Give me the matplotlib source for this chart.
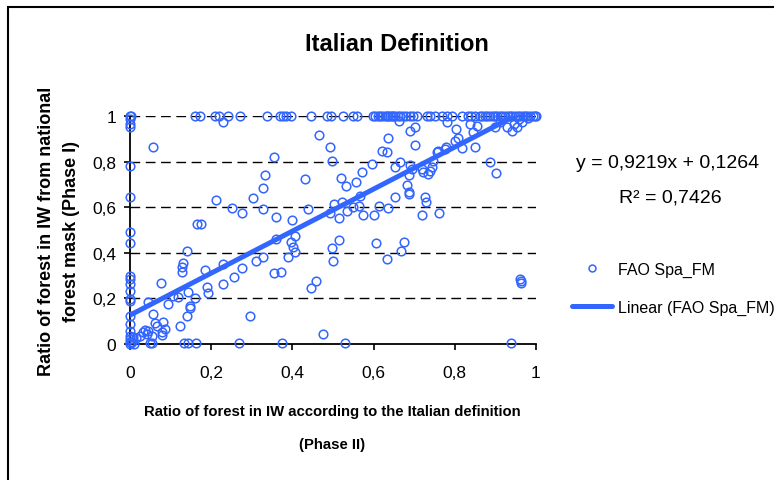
import matplotlib
matplotlib.use("Agg")
import matplotlib.pyplot as plt
from matplotlib.patches import Rectangle
import numpy as np

# points sitting on the y axis (x = 0)
left_x = [0.0, 0.003, 0.0, 0.0, 0.0, 0.0, 0.0, 0.0, 0.0, 0.0, 0.0, 0.0, 0.0,
          0.0, 0.0, 0.0, 0.0, 0.0, 0.0, 0.0, 0.0, 0.0, 0.005, 0.008, 0.01]
left_y = [1.0, 1.0, 0.987, 0.965, 0.953, 0.779, 0.646, 0.49, 0.442, 0.3, 0.285,
          0.263, 0.234, 0.197, 0.187, 0.124, 0.088, 0.058, 0.037, 0.022, 0.007,
          0.0, 0.01, 0.03, 0.0]

# points on the top row (y = 1)
top_x = [0.16, 0.172, 0.209, 0.22, 0.228, 0.242, 0.271, 0.337, 0.369, 0.377, 0.385,
         0.396, 0.447, 0.484, 0.496, 0.525, 0.55, 0.558, 0.599, 0.604, 0.612, 0.616,
         0.62, 0.628, 0.632, 0.636, 0.64, 0.645, 0.649, 0.653, 0.66, 0.665, 0.673,
         0.681, 0.69, 0.698, 0.706, 0.731, 0.739, 0.751, 0.768, 0.78, 0.792, 0.817,
         0.833, 0.841, 0.85, 0.862, 0.868, 0.874, 0.88, 0.887, 0.893, 0.899, 0.905,
         0.911, 0.917, 0.924, 0.93, 0.936, 0.942, 0.948, 0.955, 0.961, 0.967, 0.973,
         0.979, 0.985, 0.993, 0.997, 1.0]
top_y = [1.0, 1.0, 1.0, 1.0, 0.972, 1.0, 1.0, 1.0, 1.0, 1.0, 1.0,
         1.0, 1.0, 1.0, 1.0, 1.0, 1.0, 1.0, 1.0, 1.0, 1.0, 1.0,
         1.0, 1.0, 1.0, 1.0, 1.0, 1.0, 1.0, 1.0, 1.0, 1.0, 1.0,
         1.0, 1.0, 1.0, 1.0, 1.0, 1.0, 1.0, 1.0, 1.0, 1.0, 1.0,
         1.0, 1.0, 1.0, 1.0, 1.0, 1.0, 1.0, 1.0, 1.0, 1.0, 1.0,
         1.0, 1.0, 1.0, 1.0, 1.0, 1.0, 1.0, 1.0, 1.0, 1.0, 1.0,
         1.0, 1.0, 1.0, 1.0, 1.0]

# the rest of the cloud
mid_x = [0.466, 0.056, 0.493, 0.355, 0.333, 0.431, 0.327, 0.304, 0.212, 0.25, 0.328,
         0.439, 0.277, 0.359, 0.398, 0.166, 0.174, 0.406, 0.36, 0.397, 0.401, 0.406,
         0.39, 0.14, 0.13, 0.128, 0.129, 0.23, 0.327, 0.31, 0.355, 0.373, 0.185,
         0.277, 0.255, 0.23, 0.076, 0.189, 0.193, 0.144, 0.458, 0.447, 0.16, 0.148,
         0.147, 0.141, 0.045, 0.094, 0.105, 0.118, 0.056, 0.061, 0.066, 0.082, 0.086,
         0.078, 0.08, 0.122, 0.296, 0.476, 0.015, 0.025, 0.033, 0.037, 0.045, 0.041,
         0.049, 0.053, 0.133, 0.144, 0.163, 0.269, 0.375, 0.053, 0.53, 0.938,
         0.663, 0.78, 0.69, 0.702, 0.636, 0.702, 0.62, 0.632, 0.497, 0.595, 0.665,
         0.653, 0.69, 0.694, 0.686, 0.683, 0.688, 0.686, 0.571, 0.519, 0.532, 0.557,
         0.567, 0.718, 0.722, 0.739, 0.743, 0.747, 0.735, 0.757, 0.776, 0.804, 0.809,
         0.8, 0.817, 0.85, 0.837, 0.846, 0.854, 0.887, 0.901, 0.928, 0.94, 0.952,
         0.965, 0.899, 0.759, 0.779, 0.912, 0.945, 0.958, 0.98,
         0.493, 0.502, 0.516, 0.521, 0.534, 0.55, 0.565, 0.575, 0.602, 0.614, 0.636,
         0.653, 0.718, 0.727, 0.73, 0.762,
         0.497, 0.516, 0.499, 0.606, 0.632, 0.667, 0.675, 0.961, 0.962, 0.962]
mid_y = [0.918, 0.865, 0.866, 0.818, 0.741, 0.724, 0.684, 0.639, 0.632, 0.598, 0.59,
         0.592, 0.575, 0.559, 0.545, 0.525, 0.528, 0.475, 0.461, 0.446, 0.424, 0.405,
         0.38, 0.41, 0.356, 0.336, 0.314, 0.35, 0.38, 0.364, 0.311, 0.317, 0.325,
         0.334, 0.293, 0.263, 0.268, 0.249, 0.224, 0.229, 0.278, 0.247, 0.201, 0.167,
         0.158, 0.122, 0.186, 0.175, 0.212, 0.207, 0.13, 0.092, 0.08, 0.098, 0.066,
         0.051, 0.039, 0.08, 0.121, 0.044, 0.025, 0.037, 0.051, 0.063, 0.058, 0.044,
         0.003, 0.003, 0.003, 0.003, 0.003, 0.005, 0.004, 0.037, 0.004, 0.004,
         0.98, 0.975, 0.936, 0.95, 0.904, 0.873, 0.848, 0.844, 0.801, 0.789, 0.797,
         0.778, 0.786, 0.768, 0.741, 0.697, 0.665, 0.658, 0.756, 0.727, 0.692, 0.709,
         0.651, 0.768, 0.753, 0.76, 0.775, 0.804, 0.746, 0.844, 0.855, 0.943, 0.904,
         0.892, 0.858, 0.862, 0.965, 0.928, 0.957, 0.797, 0.75, 0.95, 0.936, 0.95,
         0.972, 0.95, 0.848, 0.862, 0.975, 0.965, 0.985, 0.99,
         0.573, 0.614, 0.551, 0.621, 0.585, 0.599, 0.607, 0.566, 0.566, 0.607, 0.595,
         0.643, 0.566, 0.643, 0.621, 0.575,
         0.42, 0.458, 0.363, 0.443, 0.373, 0.409, 0.449, 0.285, 0.268, 0.277]

slope = 0.9219
intercept = 0.1264
r2 = 0.7426

ticks = [0, 0.2, 0.4, 0.6, 0.8, 1]
tick_labels = ["0", "0,2", "0,4", "0,6", "0,8", "1"]

blue = "#3366ff"
W, H = 774, 481
sans = ["Liberation Sans", "DejaVu Sans"]

fig = plt.figure(figsize=(W / 100, H / 100), dpi=100)
ax = fig.add_axes([130 / W, 1 - 345 / H, 406 / W, 228 / H])

x_all = left_x + top_x + mid_x
y_all = left_y + top_y + mid_y
ax.plot(x_all, y_all, "o", ms=6.2, mfc="none", mec=blue, mew=1.1,
        clip_on=False, zorder=3, label="FAO Spa_FM")

xl = np.array([0.0, 1.0])
ax.plot(xl, slope * xl + intercept, "-", color=blue, lw=3.6,
        solid_capstyle="round", zorder=4, label="Linear (FAO Spa_FM)")

ax.set_xlim(0, 1)
ax.set_ylim(0, 1)
for t in ticks[1:]:
    ax.axhline(t, color="black", lw=1.0, ls=(0, (7, 4)), zorder=1)

ax.set_xticks(ticks)
ax.set_xticklabels(tick_labels)
ax.set_yticks(ticks)
ax.set_yticklabels(tick_labels)
for lab in ax.get_xticklabels() + ax.get_yticklabels():
    lab.set_family(sans)
    lab.set_fontsize(12.5)
ax.tick_params(axis="x", direction="out", length=4, width=1.2, pad=11)
ax.tick_params(axis="y", direction="out", length=4, width=1.2, pad=6)

for s in ["top", "right"]:
    ax.spines[s].set_visible(False)
for s in ["left", "bottom"]:
    ax.spines[s].set_linewidth(1.3)
ax.set_facecolor("none")

fig.text(397 / W, 1 - 45 / H, "Italian Definition", ha="center", va="center",
         fontsize=17, fontweight="bold", family=sans)
fig.text(332 / W, 1 - 412 / H, "Ratio of forest in IW according to the Italian definition",
         ha="center", va="center", fontsize=10.7, fontweight="bold", family=sans)
fig.text(332 / W, 1 - 445 / H, "(Phase II)", ha="center", va="center",
         fontsize=10.7, fontweight="bold", family=sans)
fig.text(47 / W, 1 - 231 / H, "Ratio of forest in IW from national", rotation=90,
         ha="center", va="center", fontsize=13, fontweight="bold", family=sans)
fig.text(71 / W, 1 - 231 / H, "forest mask (Phase I)", rotation=90,
         ha="center", va="center", fontsize=13, fontweight="bold", family=sans)

eq = "y = " + f"{slope:.4f}".replace(".", ",") + "x + " + f"{intercept:.4f}".replace(".", ",")
fig.text(668 / W, 1 - 164 / H, eq, ha="center", va="center", fontsize=14, family=sans)
fig.text(670 / W, 1 - 198 / H, "R\u00b2 = " + f"{r2:.4f}".replace(".", ","),
         ha="center", va="center", fontsize=14, family=sans)

leg = ax.legend(loc="upper left", bbox_to_anchor=(572 / W, 1 - 263 / H),
                bbox_transform=fig.transFigure, frameon=False, borderpad=0,
                borderaxespad=0, handlelength=2.5, handletextpad=0.35,
                labelspacing=1.4, markerscale=0.8,
                prop={"family": sans, "size": 11.5})

fig.patches.append(Rectangle((8 / W, -0.1), 1.2, 1.1 - 8 / H, fill=False,
                             lw=1.5, ec="black", transform=fig.transFigure))

fig.savefig("out.png", dpi=100)
